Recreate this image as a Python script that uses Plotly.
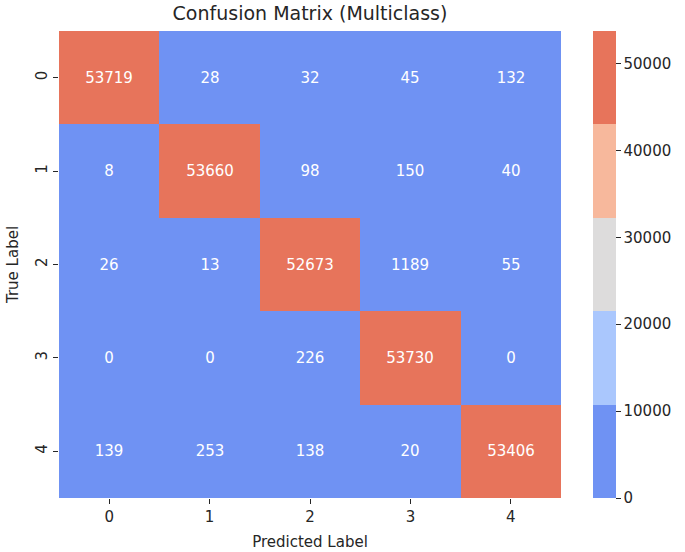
import plotly.graph_objects as go

labels = ["0", "1", "2", "3", "4"]
matrix = [
    [53719, 28, 32, 45, 132],
    [8, 53660, 98, 150, 40],
    [26, 13, 52673, 1189, 55],
    [0, 0, 226, 53730, 0],
    [139, 253, 138, 20, 53406],
]
cbar_ticks = [0, 10000, 20000, 30000, 40000, 50000]
palette = ["#6F92F3", "#AAC7FD", "#DDDCDC", "#F7B89C", "#E7745B"]

zmax = max(max(r) for r in matrix)
n = len(palette)
colorscale = []
for i, c in enumerate(palette):
    colorscale.append([i / n, c])
    colorscale.append([(i + 1) / n, c])

font = "DejaVu Sans"
L, R, T, B = 59, 124, 31, 54
W, H = 685, 552
pw = W - L - R

fig = go.Figure(
    go.Heatmap(
        z=matrix,
        x=labels,
        y=labels,
        zmin=0,
        zmax=zmax,
        colorscale=colorscale,
        text=[[str(v) for v in r] for r in matrix],
        texttemplate="%{text}",
        textfont=dict(family=font, size=15, color="white"),
        colorbar=dict(
            x=(593 - L) / pw,
            xanchor="left",
            xpad=0,
            y=0.5,
            yanchor="middle",
            ypad=0,
            len=1.0,
            lenmode="fraction",
            thickness=23,
            outlinewidth=0,
            tickvals=cbar_ticks,
            ticktext=[str(t) for t in cbar_ticks],
            ticks="outside",
            ticklen=5,
            tickcolor="#262626",
            tickfont=dict(family=font, size=15, color="#262626"),
        ),
        hoverinfo="z",
    )
)

fig.update_layout(
    width=W,
    height=H,
    margin=dict(l=L, r=R, t=T, b=B, autoexpand=False),
    paper_bgcolor="white",
    plot_bgcolor="white",
    title=dict(
        text="Confusion Matrix (Multiclass)",
        x=(L + pw / 2) / W,
        xanchor="center",
        y=1 - 13 / H,
        yanchor="middle",
        font=dict(family=font, size=19, color="#262626"),
    ),
    xaxis=dict(
        title=dict(text="Predicted Label", font=dict(family=font, size=15, color="#262626"), standoff=11),
        tickfont=dict(family=font, size=15, color="#262626"),
        ticks="outside",
        ticklen=5,
        tickcolor="#262626",
        showgrid=False,
        zeroline=False,
        showline=False,
    ),
    yaxis=dict(
        title=dict(text="True Label", font=dict(family=font, size=15, color="#262626"), standoff=10),
        tickfont=dict(family=font, size=15, color="#262626"),
        ticks="outside",
        ticklen=5,
        tickcolor="#262626",
        tickangle=-90,
        autorange="reversed",
        showgrid=False,
        zeroline=False,
        showline=False,
    ),
)

fig.write_html(
    "out.html",
    config={"displayModeBar": False},
    post_script="document.body.style.margin='0';document.body.style.overflow='hidden';",
)
